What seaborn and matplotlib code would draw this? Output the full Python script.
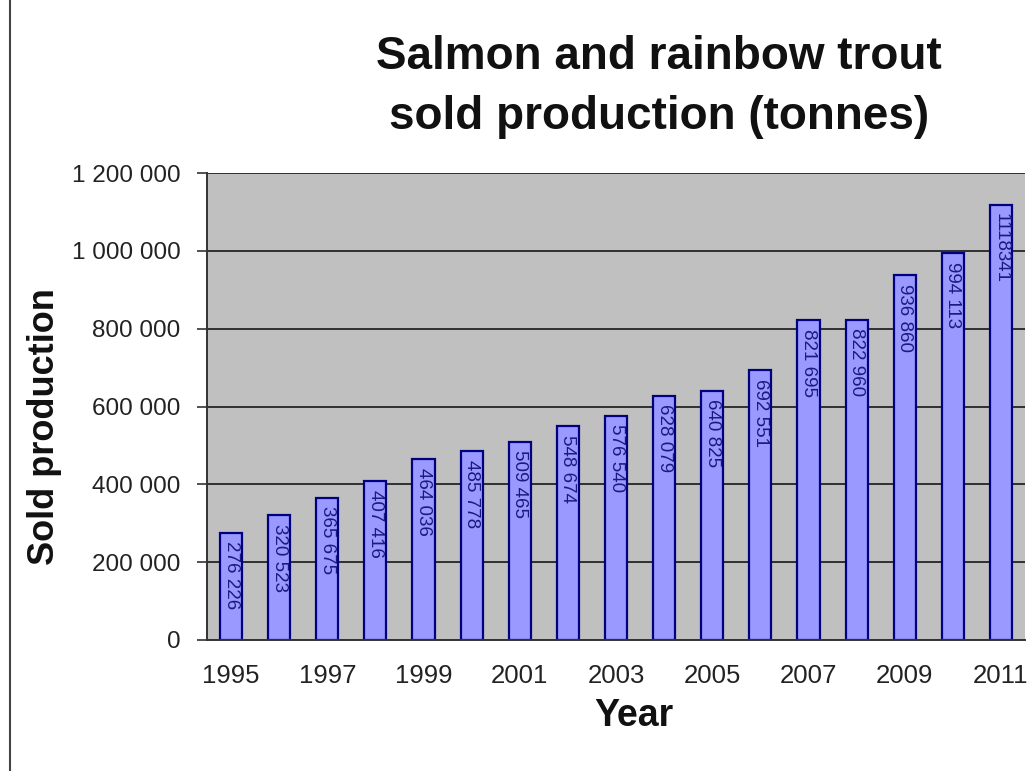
import matplotlib
matplotlib.use("Agg")
import matplotlib.pyplot as plt
import seaborn as sns
import pandas as pd
from matplotlib.lines import Line2D
from matplotlib.ticker import FixedLocator, FuncFormatter

years = [str(y) for y in range(1995, 2012)]
production = [276226, 320523, 365675, 407416, 464036, 485778, 509465, 548674,
              576540, 628079, 640825, 692551, 821695, 822960, 936860, 994113, 1118341]
bar_labels = ["276 226", "320 523", "365 675", "407 416", "464 036", "485 778",
              "509 465", "548 674", "576 540", "628 079", "640 825", "692 551",
              "821 695", "822 960", "936 860", "994 113", "1118341"]
y_ticks = [0, 200000, 400000, 600000, 800000, 1000000, 1200000]

sns.set_theme(style="white")
plt.rcParams['font.family'] = ['Liberation Sans', 'DejaVu Sans']

df = pd.DataFrame({"Year": years, "Sold": production})

fig = plt.figure(figsize=(10.30, 7.71), dpi=100)
fig.patch.set_facecolor("white")
ax = fig.add_axes([207/1030, 1-640/771, (1025-207)/1030, (640-173)/771])
ax.set_facecolor("#c0c0c0")
ax.set_axisbelow(True)

sns.barplot(data=df, x="Year", y="Sold", color="#9999ff", edgecolor="#000080",
            linewidth=1.6, width=0.46, saturation=1, ax=ax)

ax.set_xlim(-0.5, len(years) - 0.5)
ax.set_ylim(0, 1200000)
ax.yaxis.set_major_locator(FixedLocator(y_ticks))
ax.yaxis.set_major_formatter(FuncFormatter(lambda v, p: f"{int(v):,}".replace(",", " ")))
ax.yaxis.grid(True, color="#303030", linewidth=1.4)

ax.set_xticks(range(len(years)))
ax.set_xticklabels([y if i % 2 == 0 else "" for i, y in enumerate(years)])
ax.set_xticks([i - 0.5 for i in range(len(years) + 1)], minor=True)
ax.tick_params(axis="x", which="major", length=0, pad=17, labelsize=18.5, labelcolor="#222222")
ax.tick_params(axis="x", which="minor", length=7, width=1.2, color="#333333", direction="out")
ax.tick_params(axis="y", which="major", length=7, width=1.2, color="#333333", direction="out",
               labelsize=17.5, labelcolor="#222222", pad=12, left=True)
ax.set_xlabel("")
ax.set_ylabel("")

for s in ["top", "right"]:
    ax.spines[s].set_visible(False)
for s in ["left", "bottom"]:
    ax.spines[s].set_color("#333333")
    ax.spines[s].set_linewidth(1.4)

for i, (v, lab) in enumerate(zip(production, bar_labels)):
    ax.text(i, v - 22000, lab, rotation=270, ha="center", va="top",
            fontsize=13.5, color="#1a1a80")

fig.text(659/1030, 1-57/771, "Salmon and rainbow trout", ha="center", va="center",
         fontsize=33, fontweight="bold", color="#111111")
fig.text(659/1030, 1-117/771, "sold production (tonnes)", ha="center", va="center",
         fontsize=33, fontweight="bold", color="#111111")
fig.text(45/1030, 1-427/771, "Sold production", ha="center", va="center", rotation=90,
         fontsize=26, fontweight="bold", color="#111111")
fig.text(634/1030, 1-716/771, "Year", ha="center", va="center",
         fontsize=27, fontweight="bold", color="#111111")

fig.add_artist(Line2D([10/1030, 10/1030], [0, 1], color="#444444", linewidth=1.5,
                      transform=fig.transFigure))

fig.savefig("out.png", dpi=100)
